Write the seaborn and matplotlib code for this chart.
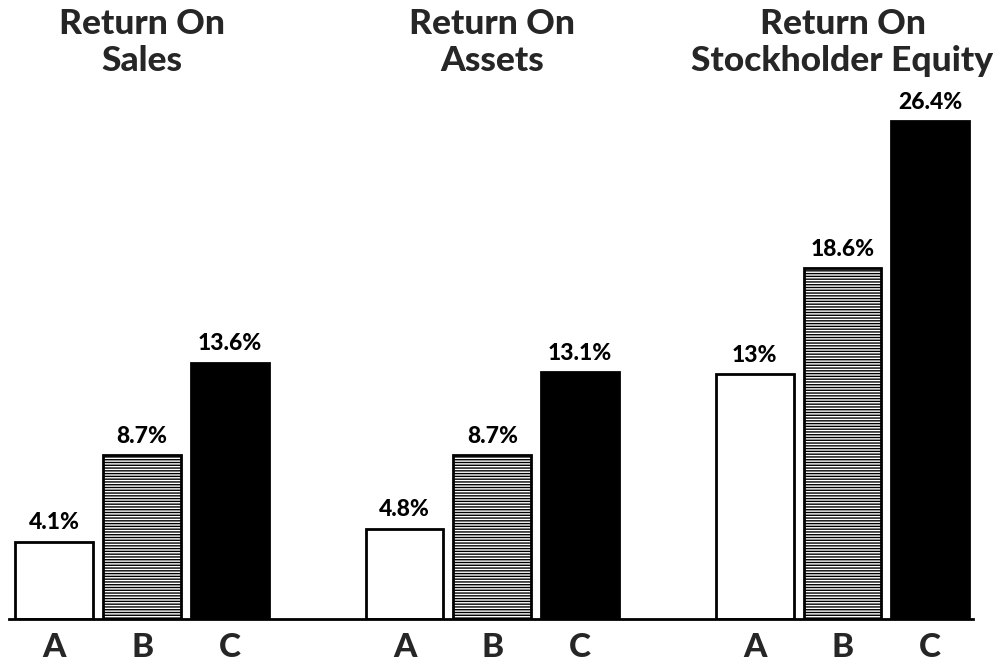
import matplotlib
matplotlib.use("Agg")
import matplotlib.pyplot as plt
import matplotlib.transforms as mtransforms
import seaborn as sns
import pandas as pd

# ---- data ----
groups = ["Return On\nSales", "Return On\nAssets", "Return On\nStockholder Equity"]
categories = ["A", "B", "C"]
values_A = [4.1, 4.8, 13.0]
values_B = [8.7, 8.7, 18.6]
values_C = [13.6, 13.1, 26.4]
labels_A = ["4.1%", "4.8%", "13%"]
labels_B = ["8.7%", "8.7%", "18.6%"]
labels_C = ["13.6%", "13.1%", "26.4%"]

rows = []
for cat, vals in zip(categories, [values_A, values_B, values_C]):
    for g, v in zip(groups, vals):
        rows.append({"group": g, "category": cat, "value": v})
df = pd.DataFrame(rows)

sns.set_style("white")
plt.rcParams["font.family"] = ["Lato", "DejaVu Sans"]
plt.rcParams["hatch.linewidth"] = 1.0
plt.rcParams["hatch.color"] = "black"

W, H = 1003, 661
fig = plt.figure(figsize=(W / 100, H / 100), dpi=100)
base_px = 619
top_px = 101
ax = fig.add_axes([9 / W, (H - base_px) / H, (973 - 9) / W, (base_px - top_px) / H])

sns.barplot(data=df, x="group", y="value", hue="category", order=groups,
            hue_order=categories, palette=["white", "white", "black"],
            width=0.752, gap=0.114, edgecolor="black", linewidth=2,
            legend=False, ax=ax, errorbar=None)

for p in ax.containers[1]:
    p.set_hatch("------")
    p.set_facecolor("white")

ax.set_xlim(-0.38, 2.3725)
ax.set_ylim(0, 27.48)

label_sets = [labels_A, labels_B, labels_C]
for cont, labs in zip(ax.containers, label_sets):
    ax.bar_label(cont, labels=labs, padding=6, fontsize=16.5, fontweight="black",
                 color="black")

centers, ticklabels = [], []
for cont, cat in zip(ax.containers, categories):
    for p in cont:
        centers.append(p.get_x() + p.get_width() / 2)
        ticklabels.append(cat)
ax.set_xticks(centers)
ax.set_xticklabels(ticklabels, fontsize=24, fontweight="black")
ax.tick_params(axis="x", length=0, pad=10)
ax.set_yticks([])
ax.set_xlabel("")
ax.set_ylabel("")

for s in ["top", "right", "left"]:
    ax.spines[s].set_visible(False)
ax.spines["bottom"].set_color("black")
ax.spines["bottom"].set_linewidth(2)

trans = mtransforms.blended_transform_factory(ax.transData, fig.transFigure)
for i, g in enumerate(groups):
    ax.text(i, 1 - 8 / H, g, transform=trans, ha="center", va="top",
            fontsize=25.5, fontweight="black", linespacing=1.2)

fig.savefig("out.png", dpi=100)
